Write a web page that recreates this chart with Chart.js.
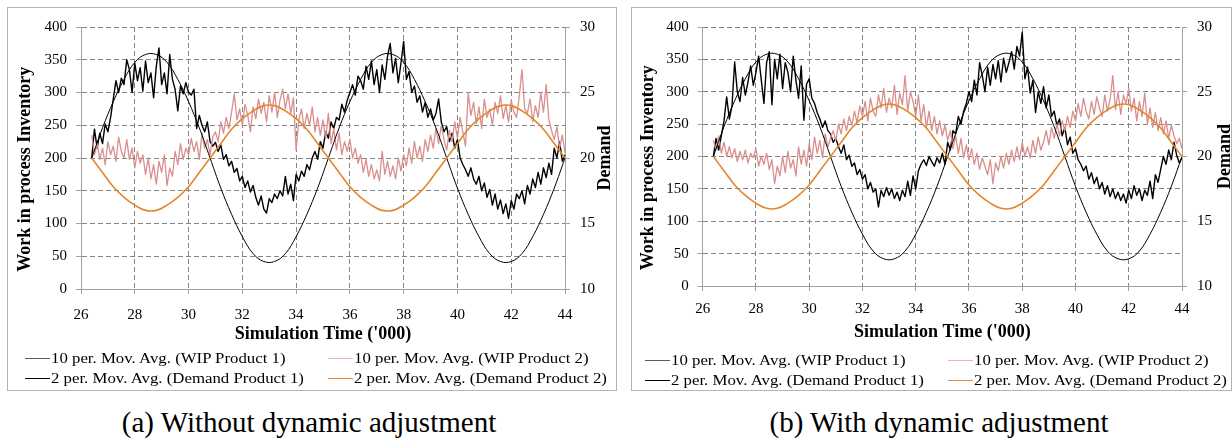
<!DOCTYPE html>
<html>
<head>
<meta charset="utf-8">
<script src="https://cdn.jsdelivr.net/npm/chart.js@4.4.1/dist/chart.umd.min.js"></script>
<style>
  html, body { margin: 0; padding: 0; background: #fff; }
  body { width: 1232px; height: 443px; position: relative; overflow: hidden; font-family: "Liberation Serif", "Times New Roman", serif; }
  .holder { position: absolute; }
  .frame { position: absolute; border: 1px solid #b4b4b4; box-sizing: border-box; pointer-events: none; }
  .caption { position: absolute; top: 408px; font-size: 29px; line-height: 29px; color: #000; white-space: nowrap; transform: translateX(-50%); }
  .legend-item { position: absolute; height: 18px; line-height: 18px; font-size: 15px; color: #000; white-space: nowrap; padding-left: 26px; }
  .legend-item .swatch { position: absolute; left: 0; top: 9px; width: 25px; height: 1px; }
  .legend-item .text { display: inline-block; transform: scaleX(1.12); transform-origin: left center; }
</style>
</head>
<body>
<div class="holder" style="left:8px;top:8px;width:608px;height:392px"><canvas id="chartA"></canvas></div>
<div class="holder" style="left:632px;top:8px;width:600px;height:392px"><canvas id="chartB"></canvas></div>
<div id="legendA"></div>
<div id="legendB"></div>
<div class="frame" style="left:7px;top:7px;width:610px;height:384px"></div>
<div class="frame" style="left:631px;top:7px;width:601px;height:384px"></div>
<div class="caption" style="left:309px">(a) Without dynamic adjustment</div>
<div class="caption" style="left:939px">(b) With dynamic adjustment</div>

<script>
'use strict';

// sample grid of the series ('000 time units)
var startTime  = 26.4
var wipStep    = 0.1
var demandStep = 0.4

var timeTicks   = [26, 28, 30, 32, 34, 36, 38, 40, 42, 44]
var wipTicks    = [0, 50, 100, 150, 200, 250, 300, 350, 400]
var demandTicks = [10, 15, 20, 25, 30]

var seriesNames = [
	'10 per. Mov. Avg. (WIP Product 1)',
	'10 per. Mov. Avg. (WIP Product 2)',
	'2 per. Mov. Avg. (Demand Product 1)',
	'2 per. Mov. Avg. (Demand Product 2)'
]

// (a) without dynamic adjustment
var wipA1 = [
	200, 244, 215, 238, 222, 252,
	240, 262, 290, 318, 300, 322, 312, 350, 335, 300,
	345, 318, 338, 302, 348, 315, 330, 292, 340, 368,
	312, 330, 298, 358, 320, 305, 272, 310, 298, 315,
	300, 296, 305, 245, 265, 250, 240, 255, 225, 218,
	224, 210, 220, 198, 205, 188, 195, 178, 184, 165,
	172, 155, 165, 148, 158, 140, 128, 142, 122, 116,
	138, 132, 145, 138, 150, 142, 172, 145, 160, 135,
	175, 165, 180, 172, 190, 182, 200, 210, 198, 225,
	215, 240, 230, 255, 245, 262, 258, 282, 270, 288,
	300, 312, 296, 325, 318, 305, 340, 320, 348, 312,
	335, 300, 342, 320, 355, 375, 330, 352, 315, 345,
	378, 320, 332, 300, 310, 285, 295, 270, 285, 262,
	275, 258, 268, 290, 255, 240, 248, 225, 238, 215,
	228, 200, 190, 182, 172, 185, 168, 160, 172, 150,
	162, 140, 152, 128, 145, 122, 136, 115, 130, 108,
	135, 122, 145, 138, 150, 130, 158, 145, 168, 155,
	178, 160, 185, 170, 192, 175, 215, 200, 225, 195,
	205
]

var wipA2 = [
	235, 205, 222, 198, 215, 190,
	225, 205, 218, 195, 232, 210, 200, 228, 198, 215,
	185, 210, 192, 205, 175, 200, 168, 190, 160, 195,
	178, 205, 158, 185, 172, 210, 190, 222, 198, 215,
	205, 230, 210, 225, 198, 238, 215, 228, 205, 232,
	240, 225, 255, 238, 262, 245, 270, 298, 258, 275,
	250, 282, 265, 240, 278, 260, 290, 268, 285, 255,
	295, 270, 300, 262, 288, 305, 275, 298, 268, 292,
	212, 258, 275, 245, 268, 250, 278, 240, 262, 235,
	258, 230, 268, 222, 245, 212, 238, 205, 225, 210,
	228, 200, 215, 192, 205, 178, 198, 172, 190, 168,
	182, 165, 210, 175, 195, 172, 188, 168, 200, 180,
	205, 188, 215, 192, 225, 200, 218, 195, 228, 210,
	235, 215, 245, 222, 250, 228, 212, 242, 225, 255,
	230, 262, 240, 218, 300, 265, 285, 252, 278, 245,
	290, 262, 275, 250, 285, 268, 295, 260, 280, 255,
	288, 270, 262, 295, 335, 275, 268, 290, 255, 280,
	262, 300, 270, 312, 258, 242, 228, 248, 215, 235,
	208
]

// (b) with dynamic adjustment
var wipB1 = [
	200, 228, 210, 232, 255, 292,
	258, 278, 346, 300, 285, 322, 295, 315, 340, 310,
	330, 355, 318, 282, 345, 362, 280, 350, 320, 358,
	305, 345, 330, 300, 355, 318, 290, 340, 256, 312,
	320, 290, 282, 268, 258, 245, 255, 240, 235, 222,
	228, 215, 205, 218, 195, 202, 185, 190, 172, 180,
	165, 172, 150, 160, 145, 150, 122, 148, 138, 152,
	140, 150, 135, 145, 132, 148, 138, 162, 140, 170,
	150, 178, 188, 195, 186, 200, 192, 185, 198, 190,
	205, 188, 222, 210, 240, 235, 262, 250, 270, 282,
	300, 285, 318, 295, 345, 325, 300, 338, 310, 342,
	320, 348, 315, 352, 330, 345, 362, 335, 370, 355,
	392, 320, 338, 298, 318, 268, 300, 282, 308, 275,
	295, 262, 270, 248, 258, 232, 245, 218, 230, 205,
	212, 195, 188, 178, 185, 165, 175, 158, 168, 150,
	160, 142, 155, 138, 150, 135, 145, 132, 142, 128,
	148, 135, 155, 140, 150, 132, 148, 140, 162, 135,
	172, 160, 180, 200, 188, 210, 195, 222, 202, 190,
	198
]

var wipB2 = [
	225, 210, 232, 205, 222, 200,
	215, 198, 212, 192, 208, 195, 210, 190, 205, 198,
	212, 185, 200, 188, 205, 180, 195, 158, 185, 170,
	200, 175, 208, 182, 195, 170, 215, 188, 210, 185,
	220, 195, 230, 205, 225, 198, 235, 215, 228, 240,
	225, 250, 235, 258, 240, 262, 248, 270, 252, 278,
	262, 285, 255, 290, 270, 262, 295, 275, 305, 268,
	290, 275, 310, 265, 298, 280, 325, 270, 300, 285,
	262, 295, 255, 280, 245, 270, 240, 262, 235, 255,
	232, 248, 225, 240, 212, 232, 205, 228, 198, 218,
	195, 212, 188, 205, 180, 198, 185, 172, 195, 158,
	190, 178, 200, 182, 205, 188, 210, 192, 215, 195,
	222, 200, 215, 198, 225, 205, 230, 210, 222, 240,
	218, 245, 228, 250, 232, 255, 240, 262, 245, 270,
	255, 282, 262, 290, 270, 258, 285, 265, 292, 275,
	262, 295, 270, 288, 325, 272, 300, 265, 295, 282,
	305, 270, 290, 255, 285, 262, 298, 250, 275, 245,
	268, 240, 260, 235, 255, 228, 248, 232, 220, 228,
	212
]

// demand is the same in both runs
var demand1 = [
	20, 22.3, 24.3, 26.0, 27.3, 27.9, 27.9, 27.3, 26.0, 24.3, 22.3,
	20, 17.7, 15.7, 14.0, 12.7, 12.1, 12.1, 12.7, 14.0, 15.7, 17.7,
	20, 22.3, 24.3, 26.0, 27.3, 27.9, 27.9, 27.3, 26.0, 24.3, 22.3,
	20, 17.7, 15.7, 14.0, 12.7, 12.1, 12.1, 12.7, 14.0, 15.7, 17.7,
	20
]

var demand2 = [
	20, 18.9, 17.8, 17.0, 16.4, 16.0, 16.0, 16.4, 17.0, 17.8, 18.9,
	20, 21.1, 22.2, 23.0, 23.6, 24.0, 24.0, 23.6, 23.0, 22.2, 21.1,
	20, 18.9, 17.8, 17.0, 16.4, 16.0, 16.0, 16.4, 17.0, 17.8, 18.9,
	20, 21.1, 22.2, 23.0, 23.6, 24.0, 24.0, 23.6, 23.0, 22.2, 21.1,
	20
]

var SERIF = '"Liberation Serif", "Times New Roman", serif'
var GRID  = '#858585'
var AXIS  = '#a0a0a0'

function toPoints(values, step) {
	return values.map(function (v, i) {
		return { x: Math.round((startTime + i * step) * 100) / 100, y: v }
	})
}

function fixedTicks(list) {
	return function (axis) {
		axis.ticks = list.map(function (v) { return { value: v } })
	}
}

// secondary axis title, read bottom to top like the left one
var demandTitle = {
	id: 'demandTitle',
	afterDraw: function (chart, args, opts) {
		var ctx = chart.ctx
		var area = chart.chartArea
		ctx.save()
		ctx.translate(opts.x, (area.top + area.bottom) / 2)
		ctx.rotate(-Math.PI / 2)
		ctx.font = 'bold 18px ' + SERIF
		ctx.fillStyle = '#000'
		ctx.textAlign = 'center'
		ctx.textBaseline = 'middle'
		ctx.fillText('Demand', 0, 0)
		ctx.restore()
	}
}

// two column legend laid out like the spreadsheet one
var htmlLegend = {
	id: 'htmlLegend',
	afterUpdate: function (chart, args, opts) {
		var box = document.getElementById(opts.containerID)
		box.innerHTML = ''
		chart.data.datasets.forEach(function (ds, i) {
			var item = document.createElement('div')
			item.className = 'legend-item'
			item.style.left = opts.cols[i % 2] + 'px'
			item.style.top = (opts.rows[Math.floor(i / 2)] - 9) + 'px'

			var swatch = document.createElement('span')
			swatch.className = 'swatch'
			swatch.style.background = opts.colors[i]

			var text = document.createElement('span')
			text.className = 'text'
			text.textContent = ds.label

			item.appendChild(swatch)
			item.appendChild(text)
			box.appendChild(item)
		})
	}
}

function buildDatasets(wip1, wip2) {
	var common = { pointRadius: 0, fill: false, borderJoinStyle: 'round' }
	return [
		Object.assign({ label: seriesNames[0], data: toPoints(wip1, wipStep), yAxisID: 'y',
			borderColor: '#000', borderWidth: 1.4, tension: 0, order: 4 }, common),
		Object.assign({ label: seriesNames[1], data: toPoints(wip2, wipStep), yAxisID: 'y',
			borderColor: '#d98f8e', borderWidth: 1.3, tension: 0, order: 3 }, common),
		Object.assign({ label: seriesNames[2], data: toPoints(demand1, demandStep), yAxisID: 'y1',
			borderColor: '#000', borderWidth: 1, tension: 0.4, order: 2 }, common),
		Object.assign({ label: seriesNames[3], data: toPoints(demand2, demandStep), yAxisID: 'y1',
			borderColor: '#e3862c', borderWidth: 1.6, tension: 0.4, order: 1 }, common)
	]
}

function makeChart(id, wip1, wip2, L) {
	var tickFont = { family: SERIF, size: 15 }
	var titleFont = { family: SERIF, size: 18, weight: 'bold' }

	return new Chart(document.getElementById(id), {
		type: 'line',
		data: { datasets: buildDatasets(wip1, wip2) },
		options: {
			responsive: true,
			maintainAspectRatio: false,
			animation: false,
			layout: { padding: { top: 15, right: 0, bottom: L.bottom, left: 0 } },
			plugins: {
				legend: { display: false },
				tooltip: { enabled: false },
				demandTitle: { x: L.demandX },
				htmlLegend: {
					containerID: L.legendID, cols: L.legendCols, rows: L.legendRows,
					colors: ['#5a5a5a', '#eeb3b3', '#000', '#f0883a']
				}
			},
			scales: {
				x: {
					type: 'linear', min: 26, max: 44,
					afterBuildTicks: fixedTicks(timeTicks),
					afterFit: function (s) { s.height = L.xHeight },
					ticks: { padding: L.xPad, color: '#000', font: tickFont, maxRotation: 0 },
					grid: { color: GRID, tickColor: AXIS, tickLength: 5, tickBorderDash: [] },
					border: { color: AXIS, dash: [5, 3] },
					title: { display: true, text: "Simulation Time ('000)", color: '#000', font: titleFont,
						padding: { top: 0, bottom: L.xTitlePad } }
				},
				y: {
					position: 'left', min: 0, max: 400,
					afterBuildTicks: fixedTicks(wipTicks),
					afterFit: function (s) { s.width = L.leftW },
					ticks: { padding: 9, color: '#000', font: tickFont },
					grid: { color: GRID, tickColor: AXIS, tickLength: 5, tickBorderDash: [] },
					border: { color: AXIS, dash: [5, 3] },
					title: { display: true, text: 'Work in process Inventory     ', color: '#000', font: titleFont,
						padding: { top: L.yTitlePad, bottom: 0 } }
				},
				y1: {
					position: 'right', min: 10, max: 30,
					afterBuildTicks: fixedTicks(demandTicks),
					afterFit: function (s) { s.width = L.rightW },
					ticks: { padding: 10, color: '#000', font: tickFont },
					grid: { drawOnChartArea: false, color: GRID, tickColor: AXIS, tickLength: 5 },
					border: { color: AXIS }
				}
			}
		},
		plugins: [demandTitle, htmlLegend]
	})
}

makeChart('chartA', wipA1, wipA2, {
	bottom: 54.75, xHeight: 56.25, xPad: 12.5, xTitlePad: 0,
	leftW: 73, rightW: 51, yTitlePad: 6.2, demandX: 597.8,
	legendID: 'legendA', legendCols: [25, 328], legendRows: [358, 378]
})

makeChart('chartB', wipB1, wipB2, {
	bottom: 54.75, xHeight: 59.25, xPad: 9.5, xTitlePad: 2,
	leftW: 70.7, rightW: 50, yTitlePad: 5.5, demandX: 593,
	legendID: 'legendB', legendCols: [645, 948], legendRows: [360, 380]
})
</script>
</body>
</html>
